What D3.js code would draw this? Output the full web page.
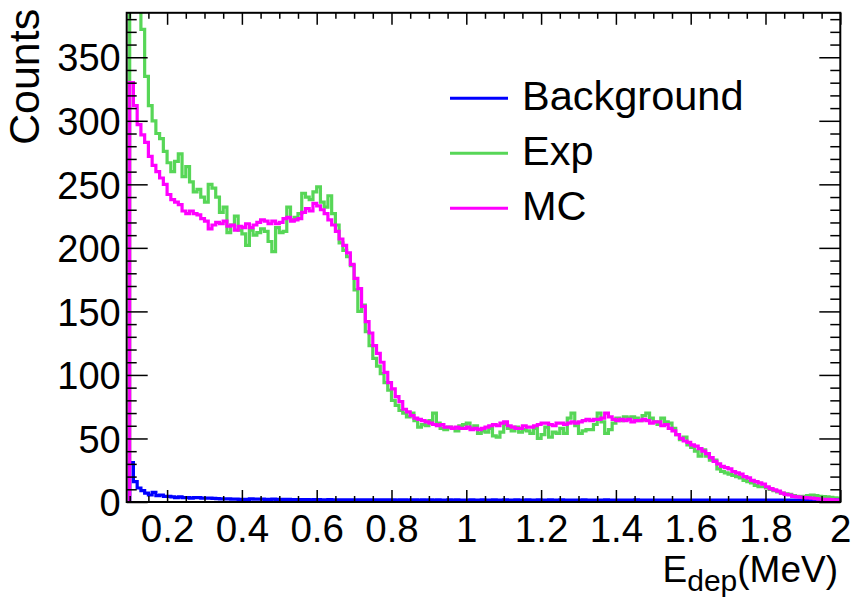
<!DOCTYPE html>
<html><head><meta charset="utf-8">
<script src="https://cdn.jsdelivr.net/npm/d3@7"></script>
<style>
html,body{margin:0;padding:0;background:#fff;}
svg{display:block;font-family:"Liberation Sans",Arial,Helvetica,sans-serif;}
</style></head><body>
<svg id="chart" width="852" height="597"></svg>
<script>
// Histogram binning (MeV)
const binLow = 0.10;
const binWidth = 0.01;

// Simulated spectrum, one value per 0.01 MeV bin from 0.10 to 2.00 MeV
const mcCounts = [
  330,312,297,289,283,272,265,260,255,250,
  242,238,236,234,229,227,229,227,226,223,
  221,215,218,220,219,221,217,218,214,217,
  216,219,216,218,220,222,221,219,221,219,
  220,223,224,221,222,223,228,231,229,235,
  233,230,227,222,218,213,207,202,196,187,
  176,168,154,142,133,123,117,110,102,94,
  89,83,79,73,71,68,66,65,64,63,
  62,61,60,61,59,59,58,59,58,58,
  59,57,58,57,58,59,60,61,60,62,
  63,60,59,58,58,60,59,59,60,61,
  62,62,61,60,62,62,61,62,63,62,
  63,64,65,64,65,65,66,70,67,65,
  64,65,64,65,63,64,64,65,64,62,
  63,63,60,61,58,56,53,50,48,47,
  45,44,42,40,38,35,32,30,28,27,
  26,24,23,22,20,19,17,16,15,14,
  12,10.5,9.5,8.5,7,6,5.5,4.5,4,3.8,
  3.5,3.3,3,2.6,2.3,2.1,2,1.8,1.6,1.5
];

// Measured spectrum
const expCounts = [
  400,395,388,372,335,312,300,290,286,276,
  267,260,268,274,256,264,252,244,246,240,
  236,250,247,240,228,232,212,218,225,214,
  211,202,214,210,212,215,213,205,197,216,
  212,213,232,222,224,227,243,240,238,244,
  248,236,232,241,227,218,204,198,193,186,
  167,150,155,134,123,113,107,101,94,88,
  80,76,72,70,67,70,64,59,61,60,
  64,70,62,58,57,59,58,56,60,61,
  62,58,60,54,56,55,58,52,51,55,
  61,58,56,59,55,57,56,54,58,50,
  53,59,51,55,54,58,54,66,70,60,
  54,56,57,57,61,70,63,54,57,62,
  66,64,67,66,67,66,64,68,70,66,
  63,61,66,63,62,58,53,49,51,45,
  43,40,36,41,36,33,33,26,24,23,
  22,21,20,19,17,16,15,13,12,12,
  11,10,9,8,7,6.5,6,5,4.5,4.2,
  4.5,5,5.5,5,4.5,4.2,4,3.6,3.3,3
];

// Background spectrum
const bkgCounts = [
  31,16,11,9,7,5.5,7.5,5,5.5,4.5,
  4.5,4,3.5,4,3.5,3.5,3,3.5,3.5,3,
  3,3,2.8,2.6,2.5,2.5,2.4,2.2,2.2,2,
  2,2,2.4,2.2,2.3,2.3,2,2,2.2,2,
  2,2.1,2,1.8,1.8,1.9,1.8,1.8,1.7,1.8,
  1.8,1.7,1.7,1.8,1.6,1.7,1.6,1.6,1.7,1.6,
  1.7,1.6,1.7,1.6,1.7,1.6,1.6,1.7,1.6,1.6,
  1.6,1.5,1.6,1.7,1.5,1.6,1.6,1.5,1.6,1.5,
  1.6,1.5,1.6,1.5,1.5,1.6,1.5,1.7,1.5,1.5,
  1.5,1.6,1.5,1.5,1.6,1.5,1.5,1.6,1.5,1.5,
  1.6,1.5,1.5,1.6,1.5,1.5,1.6,1.5,1.5,1.6,
  1.5,1.5,1.6,1.5,1.5,1.6,1.5,1.4,1.5,1.5,
  1.5,1.6,1.5,1.5,1.4,1.5,1.5,1.6,1.5,1.5,
  1.5,1.5,1.4,1.5,1.5,1.6,1.5,1.5,1.4,1.5,
  1.5,1.4,1.5,1.5,1.5,1.4,1.5,1.5,1.4,1.5,
  1.5,1.5,1.4,1.5,1.4,1.5,1.5,1.4,1.5,1.5,
  1.4,1.5,1.5,1.4,1.5,1.5,1.4,1.5,1.5,1.4,
  1.5,1.4,1.5,1.5,1.4,1.5,1.4,1.5,1.4,1.5,
  1.4,1.5,1.4,1.5,1.4,1.4,1.5,1.4,1.5,1.4
];

const xMajorTicks = [0.2,0.4,0.6,0.8,1.0,1.2,1.4,1.6,1.8,2.0];
const xTickLabels = ["0.2","0.4","0.6","0.8","1","1.2","1.4","1.6","1.8","2"];
const yMajorTicks = [0,50,100,150,200,250,300,350];
const yTickLabels = ["0","50","100","150","200","250","300","350"];
const seriesNames = ["Background","Exp","MC"];
const seriesColors = ["#0000ff","#57d657","#ff00ff"];
const xDomain = [0.092, 2.0];
const yDomain = [0, 385];

const svg = d3.select("#chart");
const frame = {left:126.7, right:840.3, top:12.8, bottom:502};
const x = d3.scaleLinear().domain(xDomain).range([frame.left, frame.right]);
const y = d3.scaleLinear().domain(yDomain).range([frame.bottom, frame.top]);

svg.append("defs").append("clipPath").attr("id","frameClip")
  .append("rect").attr("x",frame.left).attr("y",frame.top)
  .attr("width",frame.right-frame.left).attr("height",frame.bottom-frame.top);

// step outline of a histogram, rising from zero at the first bin edge
function histPoints(counts){
  const pts = [[binLow, 0]];
  counts.forEach((c,i)=>pts.push([binLow + i*binWidth, c]));
  pts.push([binLow + counts.length*binWidth, counts[counts.length-1]]);
  return pts;
}
const stepLine = d3.line().x(d=>x(d[0])).y(d=>y(d[1])).curve(d3.curveStepAfter);

const hists = svg.append("g").attr("clip-path","url(#frameClip)");
[[expCounts,1],[bkgCounts,0],[mcCounts,2]].forEach(([counts,k])=>{
  hists.append("path").attr("d", stepLine(histPoints(counts)))
    .attr("fill","none").attr("stroke",seriesColors[k])
    .attr("stroke-width",3.2).attr("stroke-linejoin","miter");
});

// minor tick positions
const xMinor = d3.range(0.10, 2.0001, 0.05).filter(v=>Math.abs(v/0.2-Math.round(v/0.2))>1e-6);
const yMinor = d3.range(0, 381, 10).filter(v=>v%50!==0);

function styleAxis(g){
  g.select(".domain").remove();
  g.selectAll("line").attr("stroke","#000").attr("stroke-width",1.5);
}
// bottom
svg.append("g").attr("transform",`translate(0,${frame.bottom})`)
  .call(d3.axisBottom(x).tickValues(xMinor).tickSize(-6).tickFormat(""))
  .call(styleAxis);
const bx = svg.append("g").attr("transform",`translate(0,${frame.bottom})`)
  .call(d3.axisBottom(x).tickValues(xMajorTicks).tickSize(-12).tickFormat((d,i)=>xTickLabels[i]))
  .call(styleAxis);
bx.selectAll("text").attr("y",40).attr("dy",null)
  .attr("font-size",38.5).attr("fill","#000").attr("font-family",null);
// top
svg.append("g").attr("transform",`translate(0,${frame.top})`)
  .call(d3.axisTop(x).tickValues(xMinor).tickSize(-6).tickFormat(""))
  .call(styleAxis);
svg.append("g").attr("transform",`translate(0,${frame.top})`)
  .call(d3.axisTop(x).tickValues(xMajorTicks).tickSize(-12).tickFormat(""))
  .call(styleAxis);
// left
svg.append("g").attr("transform",`translate(${frame.left},0)`)
  .call(d3.axisLeft(y).tickValues(yMinor).tickSize(-10).tickFormat(""))
  .call(styleAxis);
const ly = svg.append("g").attr("transform",`translate(${frame.left},0)`)
  .call(d3.axisLeft(y).tickValues(yMajorTicks).tickSize(-21).tickFormat((d,i)=>yTickLabels[i]))
  .call(styleAxis);
ly.selectAll("text").attr("x",-6).attr("dy","0.36em")
  .attr("font-size",38).attr("fill","#000").attr("font-family",null);
// right
svg.append("g").attr("transform",`translate(${frame.right},0)`)
  .call(d3.axisRight(y).tickValues(yMinor).tickSize(-10).tickFormat(""))
  .call(styleAxis);
svg.append("g").attr("transform",`translate(${frame.right},0)`)
  .call(d3.axisRight(y).tickValues(yMajorTicks).tickSize(-21).tickFormat(""))
  .call(styleAxis);

// frame
svg.append("rect").attr("x",frame.left).attr("y",frame.top)
  .attr("width",frame.right-frame.left).attr("height",frame.bottom-frame.top)
  .attr("fill","none").attr("stroke","#000").attr("stroke-width",2);

// axis titles
svg.append("text").attr("transform",`translate(39,${frame.top-4}) rotate(-90)`)
  .attr("text-anchor","end").attr("font-size",43).attr("fill","#000").text("Counts");
const xt = svg.append("text").attr("x",838).attr("y",582)
  .attr("text-anchor","end").attr("font-size",37).attr("fill","#000");
xt.append("tspan").text("E");
xt.append("tspan").attr("font-size",30).attr("dy",9).text("dep");
xt.append("tspan").attr("dy",-9).text("(MeV)");

// legend
const legendY = [98.3, 153.3, 208.3];
const legend = svg.append("g");
seriesNames.forEach((name,i)=>{
  legend.append("line").attr("x1",450).attr("x2",508)
    .attr("y1",legendY[i]).attr("y2",legendY[i])
    .attr("stroke",seriesColors[i]).attr("stroke-width",3);
  legend.append("text").attr("x",522).attr("y",legendY[i]+12)
    .attr("font-size",41.5).attr("fill","#000").text(name);
});
</script>
</body></html>
